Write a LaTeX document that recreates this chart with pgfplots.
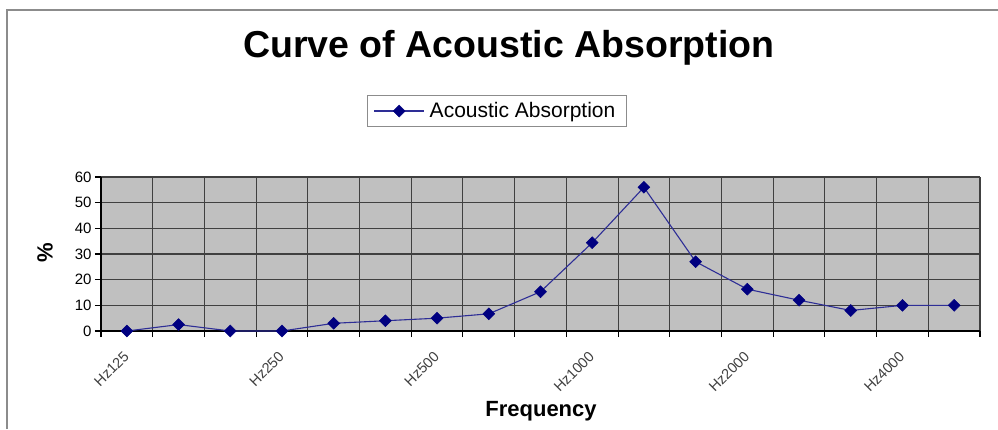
\documentclass[border=0pt]{standalone}
\usepackage{pgfplots}
\pgfplotsset{compat=1.18}
\usepackage{fontspec}
\setmainfont{Liberation Sans}
\definecolor{bggray}{HTML}{C0C0C0}
\definecolor{navyline}{HTML}{000080}
\definecolor{plotline}{HTML}{2E2E96}
\definecolor{framegray}{HTML}{8C8C8C}
\begin{document}
\begin{tikzpicture}[x=1pt,y=1pt]
\useasboundingbox (0,0) rectangle (998,-429);
\draw[framegray, line width=1.6pt] (7,-429) -- (7,-10) -- (998,-10);
\begin{axis}[
  at={(101pt,-331pt)}, anchor=south west,
  scale only axis, width=879pt, height=154pt,
  xmin=-0.5, xmax=16.5, ymin=0, ymax=60,
  axis background/.style={fill=bggray},
  axis x line=bottom, axis y line=left,
  axis line style={-, black, line width=1.2pt},
  ytick={0,10,...,60},
  ymajorgrids,
  major grid style={black!75, line width=1.1pt},
  minor grid style={black!75, line width=1.1pt},
  xtick={0,3,6,9,12,15},
  xticklabels={Hz125,Hz250,Hz500,Hz1000,Hz2000,Hz4000},
  major x tick style={draw=none},
  minor xtick={-0.5,0.5,...,16.5},
  xminorgrids,
  tick align=outside,
  major tick length=6pt, minor tick length=6pt,
  tick style={black, line width=1.1pt},
  /pgf/number format/assume math mode=true,
  yticklabel style={font=\fontsize{15}{17}\selectfont, text=black},
  xticklabel style={rotate=45, anchor=north east, font=\fontsize{14.5}{16}\selectfont, text=black!75, xshift=-9pt, yshift=-3pt},
  title={Curve of Acoustic Absorption},
  title style={at={(axis description cs:0.464,1.740)}, anchor=base, font=\fontsize{37.5}{40}\selectfont\bfseries},
  xlabel={Frequency},
  xlabel style={at={(axis description cs:0.5006,-0.558)}, anchor=base, font=\fontsize{22}{24}\selectfont\bfseries},
  ylabel={\%},
  ylabel style={at={(axis description cs:-0.0637,0.506)}, anchor=center, rotate=0, font=\fontsize{22}{24}\selectfont\bfseries},
  legend style={at={(axis description cs:0.4505,1.4286)}, anchor=center, draw=framegray, line width=1pt, fill=white,
    font=\fontsize{21}{24}\selectfont, inner xsep=6pt, inner ysep=5pt},
  legend cell align=left,
  legend image code/.code={%
    \draw[mark repeat=2, mark phase=2, #1] plot coordinates {(0pt,0pt) (25pt,0pt) (50pt,0pt)};},
  legend style={nodes={inner xsep=5pt}},
  clip=false,
]
\addplot[color=plotline, line width=1.1pt, mark=square*, mark size=4.2pt,
  mark options={rotate=45, fill=navyline, draw=navyline, line width=0.5pt}]
  coordinates {
  (0,0) (1,2.5) (2,0) (3,0) (4,3) (5,4) (6,5) (7,6.7) (8,15.3)
  (9,34.4) (10,56) (11,27) (12,16.3) (13,12) (14,8) (15,10) (16,10)
  };
\addlegendentry{Acoustic Absorption}
\end{axis}
\end{tikzpicture}
\end{document}
